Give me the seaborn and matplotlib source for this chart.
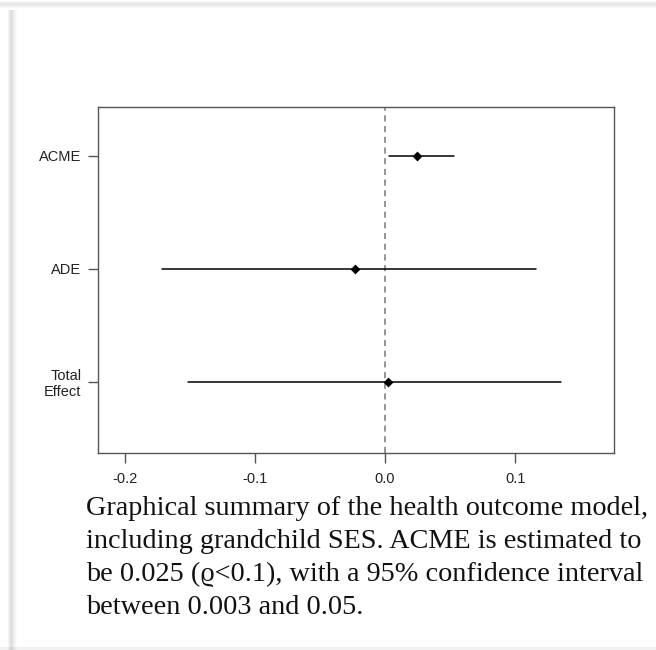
import numpy as np
import pandas as pd
import matplotlib
matplotlib.use("Agg")
import matplotlib.pyplot as plt
import seaborn as sns
from matplotlib.patches import Rectangle

categories = ["ACME", "ADE", "Total\nEffect"]
estimates = [0.025, -0.023, 0.0025]
lower = [0.0033, -0.171, -0.151]
upper = [0.053, 0.116, 0.135]
xticks = [-0.2, -0.1, 0.0, 0.1]
xticklabels = ["-0.2", "-0.1", "0.0", "0.1"]
caption = ("Graphical summary of the health outcome model,\n"
           "including grandchild SES. ACME is estimated to\n"
           "be 0.025 (\u03f1<0.1), with a 95% confidence interval\n"
           "between 0.003 and 0.05.")

rows = []
for c, lo, e, hi in zip(categories, lower, estimates, upper):
    for v in (lo, e, hi):
        rows.append({"effect": c, "value": v})
df = pd.DataFrame(rows)

sns.set_theme(style="white")
plt.rcParams["font.family"] = ["Liberation Sans", "DejaVu Sans"]

fig = plt.figure(figsize=(6.56, 6.5), dpi=100)
fig.patch.set_facecolor("white")

# card shadow decoration
for i, a in enumerate([0.03, 0.06, 0.09, 0.1, 0.08, 0.05, 0.03]):
    fig.patches.append(Rectangle((0, (650 - 2 - i) / 650), 1, 1 / 650, transform=fig.transFigure,
                                 color="black", alpha=a, lw=0))
for i, a in enumerate([0.04, 0.08, 0.12, 0.13, 0.11, 0.08, 0.05, 0.03, 0.015]):
    fig.patches.append(Rectangle(((8 + i) / 656, 0), 1 / 656, (650 - 10) / 650, transform=fig.transFigure,
                                 color="black", alpha=a, lw=0))
fig.patches.append(Rectangle((0, 0), 1, 3 / 650, transform=fig.transFigure,
                             color="black", alpha=0.05, lw=0))

ax = fig.add_axes([98 / 656, 1 - 453 / 650, 516 / 656, 346 / 650])
sns.pointplot(data=df, x="value", y="effect", order=categories, orient="h",
              estimator=np.median, errorbar=("pi", 100), linestyle="none",
              color="black", markers="D", markersize=3, err_kws={"linewidth": 1.1},
              ax=ax)
ax.axvline(0, color="#777777", linestyle=(0, (4, 3)), linewidth=1.1, zorder=0)

ax.set_xlim(-0.2205, 0.176)
ax.set_ylim(2.63, -0.43)
ax.set_xticks(xticks)
ax.set_xticklabels(xticklabels)
ax.set_xlabel("")
ax.set_ylabel("")
for s in ax.spines.values():
    s.set_color("#555555")
    s.set_linewidth(1.0)
    s.set_visible(True)
ax.tick_params(axis="both", which="both", direction="out", length=7, width=1,
               color="#555555", labelsize=10.5, labelcolor="#222222")
ax.tick_params(axis="x", pad=7, bottom=True)
ax.tick_params(axis="y", pad=5, left=True)
for lab in ax.get_yticklabels():
    lab.set_horizontalalignment("right")
    lab.set_linespacing(1.2)

fig.text(86 / 656, 1 - 496 / 650, caption, family=["Liberation Serif", "DejaVu Serif"],
         fontsize=20.3, va="top", ha="left", color="#111111", linespacing=1.41)

fig.savefig("out.png", dpi=100, facecolor="white")
